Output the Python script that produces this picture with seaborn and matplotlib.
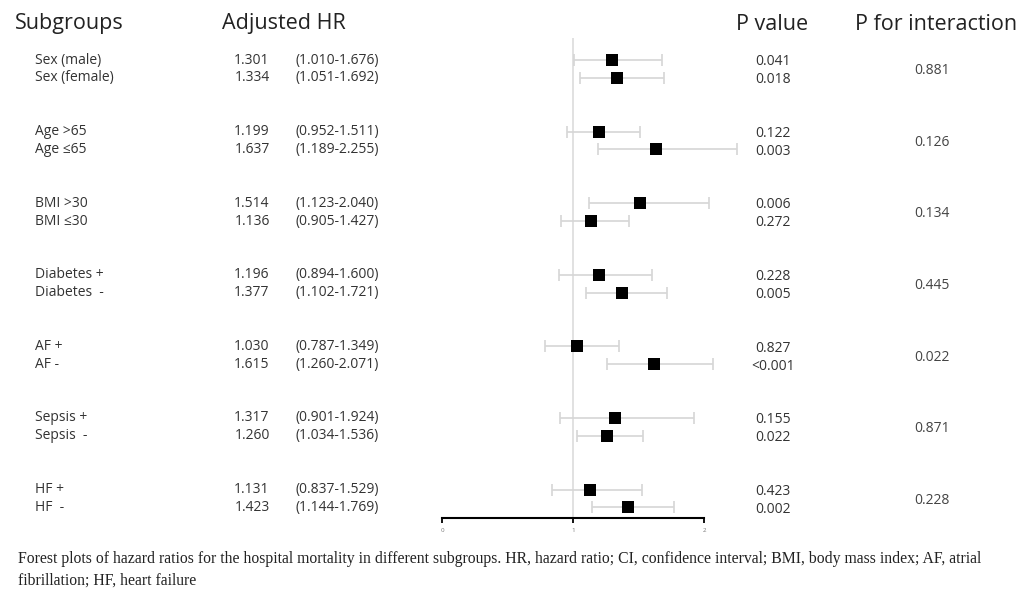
import numpy as np
import matplotlib
matplotlib.use("Agg")
import matplotlib.pyplot as plt
import matplotlib.transforms as mtransforms
import seaborn as sns
import pandas as pd

# Werte aus der Abbildung
subgroups = ["Sex (male)", "Sex (female)", "Age >65", "Age \u226465", "BMI >30", "BMI \u226430",
             "Diabetes +", "Diabetes  -", "AF +", "AF -", "Sepsis +", "Sepsis  -", "HF +", "HF  -"]
hr = [1.301, 1.334, 1.199, 1.637, 1.514, 1.136, 1.196, 1.377, 1.030, 1.615, 1.317, 1.260, 1.131, 1.423]
ci_low = [1.010, 1.051, 0.952, 1.189, 1.123, 0.905, 0.894, 1.102, 0.787, 1.260, 0.901, 1.034, 0.837, 1.144]
ci_high = [1.676, 1.692, 1.511, 2.255, 2.040, 1.427, 1.600, 1.721, 1.349, 2.071, 1.924, 1.536, 1.529, 1.769]
p_value = ["0.041", "0.018", "0.122", "0.003", "0.006", "0.272", "0.228", "0.005",
           "0.827", "<0.001", "0.155", "0.022", "0.423", "0.002"]
p_interaction = ["0.881", "0.126", "0.134", "0.445", "0.022", "0.871", "0.228"]

caption = ("Forest plots of hazard ratios for the hospital mortality in different subgroups. HR, hazard ratio; "
           "CI, confidence interval; BMI, body mass index; AF, atrial\nfibrillation; HF, heart failure")

sns.set_theme(style="white")
plt.rcParams["font.family"] = ["Open Sans", "DejaVu Sans"]

# Zeilenpositionen: 7 Gruppen zu je 2 Zeilen
ypos = [g * 4 + k for g in range(7) for k in (0, 1)]
df = pd.DataFrame({"subgroup": subgroups, "hr": hr, "lo": ci_low, "hi": ci_high, "y": ypos})

W, H = 1032, 595
fig = plt.figure(figsize=(W / 100, H / 100), dpi=100)
ax = fig.add_axes([442 / W, 1 - 518 / H, 262 / W, (518 - 38) / H])
ax.set_xlim(0, 2)
ax.set_ylim(25.59, -1.23)

ax.axvline(1, color="#dcdcdc", lw=1.2, zorder=1)
ax.errorbar(df["hr"], df["y"], xerr=[df["hr"] - df["lo"], df["hi"] - df["hr"]],
            fmt="none", ecolor="#d6d6d6", elinewidth=1.2, capsize=4, capthick=1.2,
            clip_on=False, zorder=2)
sns.scatterplot(data=df, x="hr", y="y", marker="s", s=80, color="black",
                edgecolor="black", linewidth=0, ax=ax, zorder=3, clip_on=False)

for side in ["top", "right", "left"]:
    ax.spines[side].set_visible(False)
ax.spines["bottom"].set_color("black")
ax.spines["bottom"].set_linewidth(1.5)
ax.set_xticks([0, 1, 2])
ax.set_xticklabels(["0", "1", "2"], fontsize=4.5, color="#777777")
ax.tick_params(axis="x", direction="out", length=3.5, width=1.3, color="black", pad=4, bottom=True)
ax.set_yticks([])
ax.set_xlabel("")
ax.set_ylabel("")

# Tabellenspalten
trans = mtransforms.blended_transform_factory(fig.transFigure, ax.transData)
txt_col = "#333333"
for i, row in df.iterrows():
    y = row["y"]
    ax.text(35 / W, y, row["subgroup"], transform=trans, ha="left", va="center",
            fontsize=10, color=txt_col, clip_on=False)
    ax.text(252 / W, y, f"{row['hr']:.3f}", transform=trans, ha="center", va="center",
            fontsize=10, color=txt_col, clip_on=False)
    ax.text(296 / W, y, f"({row['lo']:.3f}-{row['hi']:.3f})", transform=trans, ha="left", va="center",
            fontsize=10, color=txt_col, clip_on=False)
    ax.text(773 / W, y + 0.1, p_value[i], transform=trans, ha="center", va="center",
            fontsize=10, color=txt_col, clip_on=False)

for g, pint in enumerate(p_interaction):
    ax.text(932 / W, g * 4 + 0.6, pint, transform=trans, ha="center", va="center",
            fontsize=10, color="#444444", clip_on=False)

hy = 1 - 24 / H
fig.text(15 / W, hy, "Subgroups", ha="left", va="center", fontsize=15.5, color="#222222")
fig.text(222 / W, hy, "Adjusted HR", ha="left", va="center", fontsize=15.5, color="#222222")
fig.text(772 / W, hy, "P value", ha="center", va="center", fontsize=15.5, color="#222222")
fig.text(936 / W, hy, "P for interaction", ha="center", va="center", fontsize=15.5, color="#222222")

fig.text(18 / W, 1 - 551 / H, caption, ha="left", va="top", fontsize=11.3,
         family=["Liberation Serif", "DejaVu Serif"], color="#222222", linespacing=1.45)

fig.savefig("out.png", dpi=100, facecolor="white")
